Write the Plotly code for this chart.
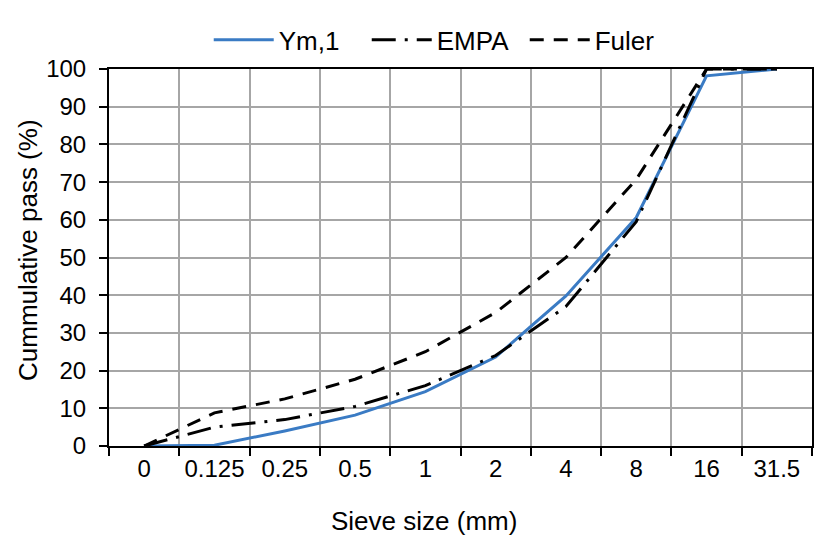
import plotly.graph_objects as go

categories = ["0", "0.125", "0.25", "0.5", "1", "2", "4", "8", "16", "31.5"]
ym1 = [0, 0.2, 4.0, 8.2, 14.4, 23.6, 39.8, 60.6, 98.2, 100]
empa = [0, 5.0, 7.0, 10.5, 16.0, 24.0, 37.0, 59.5, 100, 100]
fuler = [0, 8.8, 12.5, 17.7, 25.0, 35.4, 50.0, 70.7, 100, 100]
y_ticks = list(range(0, 101, 10))
x_title = "Sieve size (mm)"
y_title = "Cummulative pass (%)"

xpos = list(range(len(categories)))
FONT = "Arial, Liberation Sans, sans-serif"
TICK_FS = 24
TITLE_FS = 26
LEG_FS = 26

fig = go.Figure()
fig.add_trace(go.Scatter(x=xpos, y=ym1, name="Ym,1", mode="lines",
                         line=dict(color="#3A7BC4", width=3)))
fig.add_trace(go.Scatter(x=xpos, y=empa, name="EMPA", mode="lines",
                         line=dict(color="black", width=3, dash="24px,9px,3px,9px")))
fig.add_trace(go.Scatter(x=xpos, y=fuler, name="Fuler", mode="lines",
                         line=dict(color="black", width=3, dash="14px,10px")))

grid = "#A6A6A6"
fig.update_layout(
    width=832, height=535,
    margin=dict(l=109, r=20, t=69, b=89),
    paper_bgcolor="white", plot_bgcolor="white",
    font=dict(family=FONT, size=TICK_FS, color="black"),
    showlegend=True,
    legend=dict(orientation="h", x=0.479, xanchor="center", y=1.077, yanchor="middle",
                font=dict(size=LEG_FS), bgcolor="rgba(0,0,0,0)", itemwidth=60,
                entrywidth=83, traceorder="normal"),
    xaxis=dict(
        range=[-0.5, len(categories) - 0.5],
        tickmode="array", tickvals=xpos, ticktext=categories,
        ticks="", showgrid=False, zeroline=False,
        showline=True, linecolor="black", linewidth=2, mirror=True,
        minor=dict(tickmode="linear", tick0=-0.5, dtick=1, showgrid=True,
                   gridcolor=grid, gridwidth=1.5, ticks="outside", ticklen=8,
                   tickcolor="black", tickwidth=1.5),
        tickfont=dict(size=TICK_FS),
        fixedrange=True,
    ),
    yaxis=dict(
        range=[0, 100], tickmode="array", tickvals=y_ticks,
        showgrid=True, gridcolor=grid, gridwidth=1.5, zeroline=False,
        showline=True, linecolor="black", linewidth=2, mirror=True,
        ticks="outside", ticklen=8, tickcolor="black", tickwidth=1.5,
        ticklabelstandoff=8,
        tickfont=dict(size=TICK_FS),
        fixedrange=True,
    ),
    annotations=[
        dict(text=x_title, xref="paper", yref="paper", x=0.448, y=-0.199,
             xanchor="center", yanchor="middle", showarrow=False,
             font=dict(size=TITLE_FS)),
        dict(text=y_title, xref="paper", yref="paper", x=-0.1152, y=0.52,
             xanchor="center", yanchor="middle", showarrow=False, textangle=-90,
             font=dict(size=TITLE_FS)),
    ],
)

fig.write_html("out.html")
